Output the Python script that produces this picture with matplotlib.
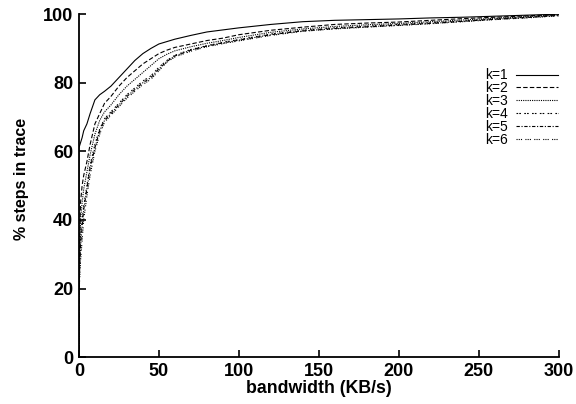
import numpy as np
import matplotlib
matplotlib.use("Agg")
import matplotlib.pyplot as plt

plt.rcParams['font.family'] = ['Liberation Sans', 'DejaVu Sans']

# bandwidth grid (KB/s), first two points both at 0 for the jump
bandwidth = [0, 0, 1, 2, 3, 5, 7, 10, 13, 16, 20, 25, 30, 35, 40, 45, 50, 55,
             60, 70, 80, 90, 100, 120, 140, 160, 180, 200, 220, 240, 260, 280, 300]

k1 = [0, 61, 62.5, 64, 66, 68, 71, 75, 76.5, 77.5, 79, 81.5, 84, 86.5, 88.5, 90,
      91.3, 92, 92.7, 93.8, 94.8, 95.4, 96, 97, 97.8, 98.2, 98.4, 98.6, 98.9,
      99.1, 99.4, 99.7, 100]
k2 = [0, 25, 45, 50, 53, 57, 62, 68, 71, 74, 76, 79, 81.5, 83.5, 85.5, 87, 88.5,
      89.5, 90.3, 91.3, 92.3, 93, 94, 95.3, 96.2, 97, 97.4, 97.7, 98.2, 98.7,
      99.1, 99.5, 99.9]
k3 = [0, 22, 40, 45, 49, 54, 59, 65, 69, 71.5, 73.5, 76.5, 79, 81, 83, 85, 87,
      88.3, 89.3, 90.5, 91.5, 92.3, 93.2, 94.7, 95.7, 96.4, 96.9, 97.3, 97.8,
      98.3, 98.8, 99.3, 99.8]
k4 = [0, 20, 35, 40, 44, 50, 56, 62, 66.5, 69.5, 71.5, 74, 76.5, 78.5, 80.5, 82,
      84.5, 86.5, 88, 89.7, 90.8, 91.8, 92.6, 94.2, 95.3, 96, 96.5, 97, 97.5,
      98, 98.6, 99.1, 99.7]
k5 = [0, 20, 32, 38, 43, 49, 55, 61, 66, 69, 71, 73.5, 76, 78, 80, 81.5, 84,
      86.2, 87.8, 89.5, 90.7, 91.6, 92.4, 94, 95.1, 95.8, 96.3, 96.8, 97.3,
      97.9, 98.5, 99, 99.6]
k6 = [0, 18, 28, 34, 40, 47, 53, 60, 65, 68.5, 70.5, 73, 75.5, 77.5, 79.5, 81,
      83.5, 86, 87.5, 89.2, 90.5, 91.4, 92.2, 93.8, 95, 95.7, 96.2, 96.7, 97.2,
      97.8, 98.4, 98.9, 99.5]

series = [k1, k2, k3, k4, k5, k6]
labels = ["k=1", "k=2", "k=3", "k=4", "k=5", "k=6"]
styles = ['-', (0, (4, 2)), (0, (1, 1)), (0, (1.5, 1, 1.5, 3)),
          (0, (3, 1.5, 1, 1.5)), (0, (1, 1, 1, 1, 1, 3))]

fig = plt.figure(figsize=(5.76, 4.04), dpi=100)
ax = fig.add_axes([0.137, 0.116, 0.833, 0.849])

for ys, lab, ls in zip(series, labels, styles):
    ax.plot(bandwidth, ys, color='black', linestyle=ls, linewidth=0.8, label=lab)

ax.set_xlim(0, 300)
ax.set_ylim(0, 100)
ax.set_xticks([0, 50, 100, 150, 200, 250, 300])
ax.set_yticks([0, 20, 40, 60, 80, 100])
ax.spines['top'].set_visible(False)
ax.spines['right'].set_visible(False)
ax.spines['left'].set_linewidth(1.3)
ax.spines['bottom'].set_linewidth(1.3)
ax.tick_params(direction='in', length=5, width=1.2, labelsize=13, pad=4)
for t in ax.get_xticklabels() + ax.get_yticklabels():
    t.set_fontweight('bold')

ax.set_xlabel("bandwidth (KB/s)", fontsize=12.8, fontweight='bold', labelpad=0)
ax.set_ylabel("% steps in trace", fontsize=11.5, fontweight='bold')
ax.yaxis.set_label_coords(-0.105, 0.52)

ax.legend(loc='upper right', bbox_to_anchor=(1.018, 0.87), frameon=False,
          markerfirst=False, fontsize=10, handlelength=3.0, handletextpad=0.6,
          labelspacing=-0.08, borderpad=0.2)

fig.savefig("out.png", dpi=100)
